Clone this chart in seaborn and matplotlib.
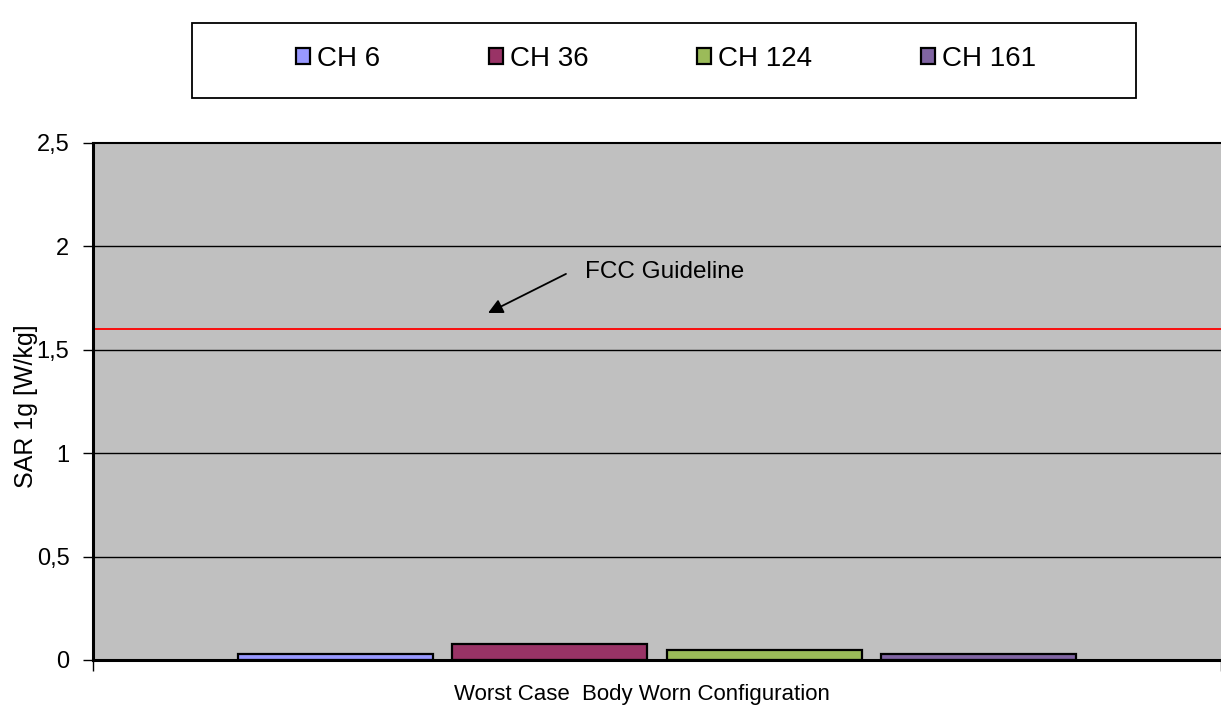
import seaborn as sns
import pandas as pd
import matplotlib.pyplot as plt
from matplotlib.patches import Rectangle

# values
configuration = ['Worst Case Body Worn Configuration']
channels = ['CH 6', 'CH 36', 'CH 124', 'CH 161']
sar_1g = [0.03, 0.075, 0.05, 0.03]
fcc_limit = 1.6
colors = ['#9999FF', '#993366', '#9BBB59', '#8064A2']

df = pd.DataFrame({'config': configuration * len(channels),
                   'channel': channels,
                   'sar': sar_1g})

sns.set_style('white')
plt.rcParams['font.family'] = ['Liberation Sans', 'DejaVu Sans']
plt.rcParams['text.color'] = 'black'
plt.rcParams['axes.labelcolor'] = 'black'
plt.rcParams['xtick.color'] = 'black'
plt.rcParams['ytick.color'] = 'black'

fig = plt.figure(figsize=(12.21, 7.11), dpi=100)
ax = fig.add_axes([93 / 1221, 51 / 711, 1 - 93 / 1221, 517 / 711])
ax.set_facecolor('#C0C0C0')

sns.barplot(data=df, x='config', y='sar', hue='channel', palette=colors,
            saturation=1, width=0.76, gap=0.09, edgecolor='black',
            linewidth=1.6, ax=ax)

# gridlines and FCC limit
for y in [0.5, 1, 1.5, 2]:
    ax.axhline(y, color='black', lw=1, zorder=0.5)
ax.axhline(fcc_limit, color='red', lw=1.3, zorder=0.6)
ax.text(-0.0638, 1.876, 'FCC Guideline', fontsize=17.5, va='center', ha='left')
ax.annotate('', xy=(-0.1498, 1.678), xytext=(-0.0807, 1.867),
            arrowprops=dict(arrowstyle='-|>', color='black', lw=1.3,
                            mutation_scale=22, shrinkA=0, shrinkB=0))

ax.set_xlim(-0.5, 0.5)
ax.set_ylim(0, 2.5)
ax.set_yticks([0, 0.5, 1, 1.5, 2, 2.5])
ax.set_yticklabels(['0', '0,5', '1', '1,5', '2', '2,5'], fontsize=17)
ax.tick_params(axis='y', direction='out', length=7, width=1, left=True, pad=10)
ax.set_xticks([-0.5, 0.5])
ax.set_xticklabels(['', ''])
ax.tick_params(axis='x', direction='out', length=8, width=1, bottom=True)
ax.set_xlabel('Worst Case  Body Worn Configuration', fontsize=16)
ax.xaxis.set_label_coords(0.487, -0.046)
ax.set_ylabel('SAR 1g [W/kg]', fontsize=18)
ax.yaxis.set_label_coords(-0.049, 0.49)

for side in ['left', 'bottom']:
    ax.spines[side].set_linewidth(2.2)
    ax.spines[side].set_color('black')
ax.spines['top'].set_linewidth(1.5)
ax.spines['top'].set_color('black')
ax.spines['right'].set_visible(False)

# legend box drawn separately, entries centred inside it
fig.patches.append(Rectangle((192 / 1221, 613 / 711), 944 / 1221, 75 / 711,
                             transform=fig.transFigure, fill=False,
                             edgecolor='black', lw=1.3))
handles, labels = ax.get_legend_handles_labels()
ax.get_legend().remove()
fig.legend(handles, labels, loc='center', ncol=4,
           bbox_to_anchor=(666 / 1221, 652 / 711),
           fontsize=20, frameon=False, handlelength=0.52, handleheight=0.52,
           handletextpad=0.25, columnspacing=3.9, borderaxespad=0)

fig.savefig('out.png', dpi=100)
